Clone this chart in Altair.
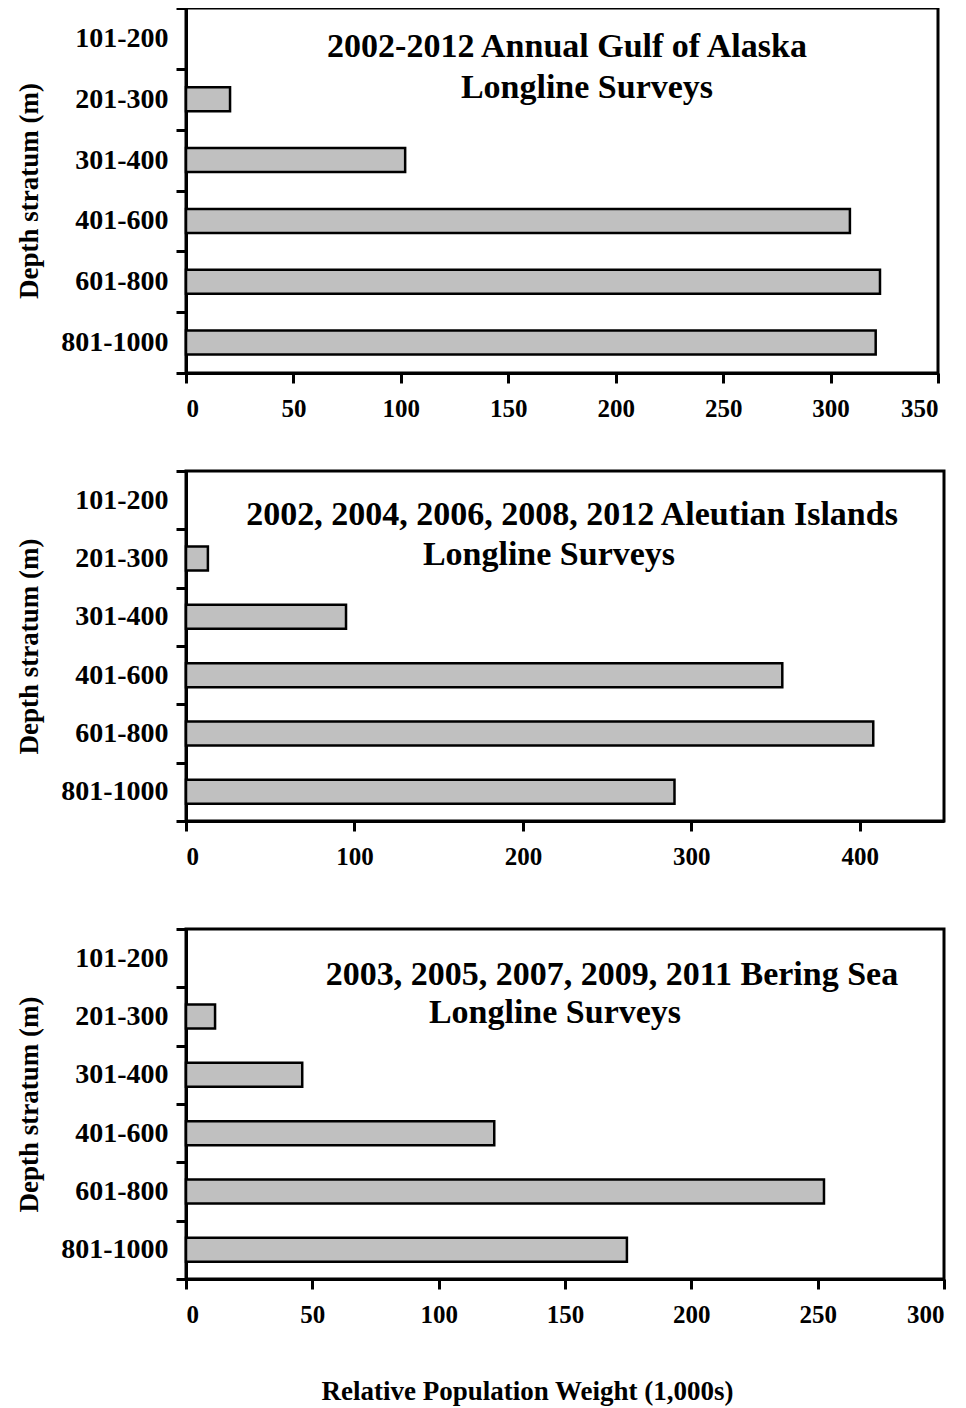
import altair as alt
import pandas as pd

FONT = "Liberation Serif"

strata = ["101-200", "201-300", "301-400", "401-600", "601-800", "801-1000"]

goa_values = [None, 20.5, 102, 309, 323, 321]
ai_values = [None, 13, 95, 354, 408, 290]
bs_values = [None, 11.5, 46, 122, 252.5, 174.5]

goa_ticks = [0, 50, 100, 150, 200, 250, 300, 350]
ai_ticks = [0, 100, 200, 300, 400]
bs_ticks = [0, 50, 100, 150, 200, 250, 300]

goa_title = ["2002-2012 Annual Gulf of Alaska", "Longline Surveys"]
ai_title = ["2002, 2004, 2006, 2008, 2012 Aleutian Islands", "Longline Surveys"]
bs_title = ["2003, 2005, 2007, 2009, 2011 Bering Sea", "Longline Surveys"]

y_title = "Depth stratum (m)"
x_title = "Relative Population Weight (1,000s)"


def panel(values, xmax, ticks, width, height, title_lines, title_pos, xaxis):
    df = pd.DataFrame({"stratum": strata, "value": values})
    bars = alt.Chart(df).mark_bar(
        fill="#c0c0c0", stroke="black", strokeWidth=2.5, size=24
    ).encode(
        x=alt.X(
            "value:Q",
            scale=alt.Scale(domain=[0, xmax], nice=False, zero=True),
            axis=xaxis,
        ),
        y=alt.Y(
            "stratum:N",
            scale=alt.Scale(domain=strata, paddingInner=0, paddingOuter=0),
            axis=alt.Axis(
                title=y_title,
                tickBand="extent",
                labelFontSize=28,
                labelPadding=8,
                titleFontSize=27,
                titleX=-157,
                titleBaseline="middle",
            ),
        ),
    )
    layers = [bars]
    for line, (px, py) in zip(title_lines, title_pos):
        layers.append(
            alt.Chart(pd.DataFrame({"t": [line]}))
            .mark_text(
                font=FONT, fontSize=34, fontWeight="bold", color="black",
                align="center", baseline="alphabetic",
            )
            .encode(text="t:N", x=alt.value(px), y=alt.value(py))
        )
    return alt.layer(*layers).properties(width=width, height=height)


ax1 = alt.Axis(values=goa_ticks, title=None, labelFontSize=25, labelPadding=13)
ax2 = alt.Axis(values=ai_ticks, title=" ", titleFontSize=10, titlePadding=0,
               labelFontSize=25, labelPadding=13)
ax3 = alt.Axis(values=bs_ticks, title=x_title, labelFontSize=25, labelPadding=13,
               titleFontSize=27, titleX=341, titleY=120, titleAlign="center",
               titleBaseline="alphabetic")

p1 = panel(goa_values, 350, goa_ticks, 752, 365, goa_title,
           [(381, 49), (401, 90)], ax1)
p2 = panel(ai_values, 450, ai_ticks, 758, 350, ai_title,
           [(386, 54), (363, 94)], ax2)
p3 = panel(bs_values, 300, bs_ticks, 758, 350, bs_title,
           [(426, 56), (369, 94)], ax3)

chart = (
    alt.vconcat(p1, p2, p3, spacing=32)
    .properties(padding={"left": 5, "top": -16, "right": 5, "bottom": 0},
                background="white")
    .configure_view(stroke="black", strokeWidth=3)
    .configure_axis(
        domainColor="black", domainWidth=3, tickColor="black", tickWidth=3,
        tickSize=10, grid=False, labelFont=FONT, labelFontWeight="bold",
        labelColor="black", titleFont=FONT, titleFontWeight="bold",
        titleColor="black", labelLimit=300,
    )
)

chart.save("out.html", embed_options={"renderer": "svg", "actions": False})
